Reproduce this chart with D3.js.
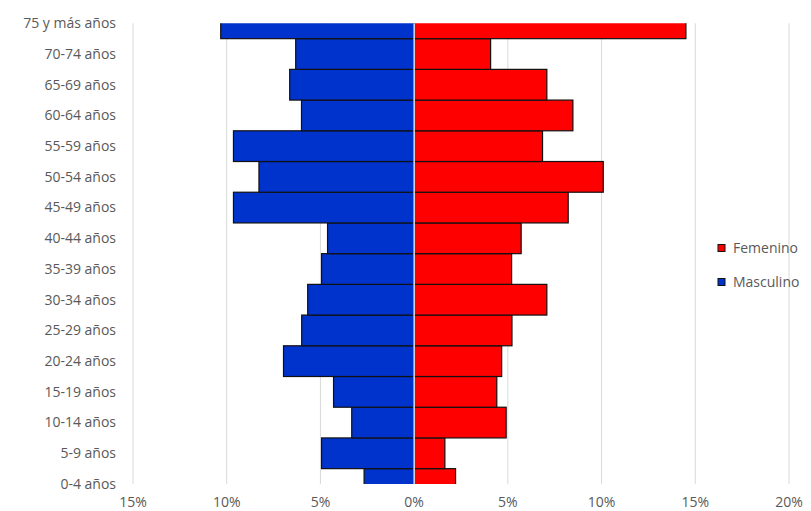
<!DOCTYPE html>
<html>
<head>
<meta charset="utf-8">
<script src="https://cdn.jsdelivr.net/npm/d3@7"></script>
<style>
  html, body { margin: 0; padding: 0; background: #fff; }
  svg text { font-family: "Open Sans", sans-serif; fill: #595959; }
</style>
</head>
<body>
<div id="chart"></div>
<script>
// grupos de edad, de abajo hacia arriba
var ageGroups = ["0-4 años", "5-9 años", "10-14 años", "15-19 años", "20-24 años", "25-29 años",
    "30-34 años", "35-39 años", "40-44 años", "45-49 años", "50-54 años", "55-59 años",
    "60-64 años", "65-69 años", "70-74 años", "75 y más años"];
var masculino = [2.67, 4.94, 3.33, 4.30, 6.97, 6.00, 5.68, 4.94, 4.62, 9.64, 8.28, 9.64, 6.01, 6.64, 6.32, 10.32];
var femenino  = [2.21, 1.64, 4.91, 4.41, 4.67, 5.22, 7.08, 5.20, 5.71, 8.22, 10.09, 6.85, 8.47, 7.08, 4.08, 14.50];
var xTicks = [-15, -10, -5, 0, 5, 10, 15, 20];
var series = [
    {name: "Femenino", color: "#ff0000"},
    {name: "Masculino", color: "#0033cc"}
];

(function() {
    var width = 811, height = 511;
    var plot = {left: 133, right: 789, top: 23.3, bottom: 484};

    var svg = d3.select("#chart").append("svg")
        .attr("width", width)
        .attr("height", height);

    var x = d3.scaleLinear()
        .domain([-15, 20])
        .range([plot.left, plot.right]);

    var y = d3.scalePoint()
        .domain(ageGroups)
        .range([plot.bottom, plot.top]);
    var band = y.step();

    svg.append("defs").append("clipPath")
        .attr("id", "plotClip")
        .append("rect")
        .attr("x", plot.left)
        .attr("y", plot.top)
        .attr("width", plot.right - plot.left)
        .attr("height", plot.bottom - plot.top);

    // Gridlines
    svg.append("g").selectAll("line")
        .data(xTicks)
        .enter().append("line")
        .attr("x1", d => x(d))
        .attr("x2", d => x(d))
        .attr("y1", plot.top)
        .attr("y2", plot.bottom)
        .attr("stroke", "#d9d9d9")
        .attr("stroke-width", 1);

    var rows = ageGroups.map((g, i) => ({group: g, m: masculino[i], f: femenino[i]}));
    var bars = svg.append("g").attr("clip-path", "url(#plotClip)");

    // Masculino a la izquierda
    bars.selectAll(".male")
        .data(rows)
        .enter().append("rect")
        .attr("class", "male")
        .attr("x", d => x(-d.m))
        .attr("y", d => y(d.group) - band / 2)
        .attr("width", d => x(0) - x(-d.m))
        .attr("height", band)
        .attr("fill", series[1].color)
        .attr("stroke", "#111")
        .attr("stroke-width", 1.2);

    // Femenino a la derecha
    bars.selectAll(".female")
        .data(rows)
        .enter().append("rect")
        .attr("class", "female")
        .attr("x", x(0))
        .attr("y", d => y(d.group) - band / 2)
        .attr("width", d => x(d.f) - x(0))
        .attr("height", band)
        .attr("fill", series[0].color)
        .attr("stroke", "#111")
        .attr("stroke-width", 1.2);

    // linea del cero encima de las barras
    svg.append("line")
        .attr("x1", x(0)).attr("x2", x(0))
        .attr("y1", plot.top).attr("y2", plot.bottom)
        .attr("stroke", "#e4e4ee")
        .attr("stroke-width", 1.5);

    // Etiquetas del eje Y
    svg.append("g").selectAll("text")
        .data(ageGroups)
        .enter().append("text")
        .attr("x", 116)
        .attr("y", d => y(d))
        .attr("dy", "0.35em")
        .attr("text-anchor", "end")
        .style("font-size", "14px")
        .text(d => d);

    // Etiquetas del eje X
    svg.append("g").selectAll("text")
        .data(xTicks)
        .enter().append("text")
        .attr("x", d => x(d))
        .attr("y", 507)
        .attr("text-anchor", "middle")
        .style("font-size", "14px")
        .text(d => Math.abs(d) + "%");

    // Leyenda
    var legend = svg.append("g").selectAll("g")
        .data(series)
        .enter().append("g")
        .attr("transform", (d, i) => "translate(718," + (248 + i * 34) + ")");
    legend.append("rect")
        .attr("x", 0)
        .attr("y", -3.5)
        .attr("width", 7)
        .attr("height", 7)
        .attr("fill", d => d.color)
        .attr("stroke", "#111")
        .attr("stroke-width", 1);
    legend.append("text")
        .attr("x", 15)
        .attr("y", 0)
        .attr("dy", "0.35em")
        .style("font-size", "14px")
        .text(d => d.name);
})();
</script>
</body>
</html>
